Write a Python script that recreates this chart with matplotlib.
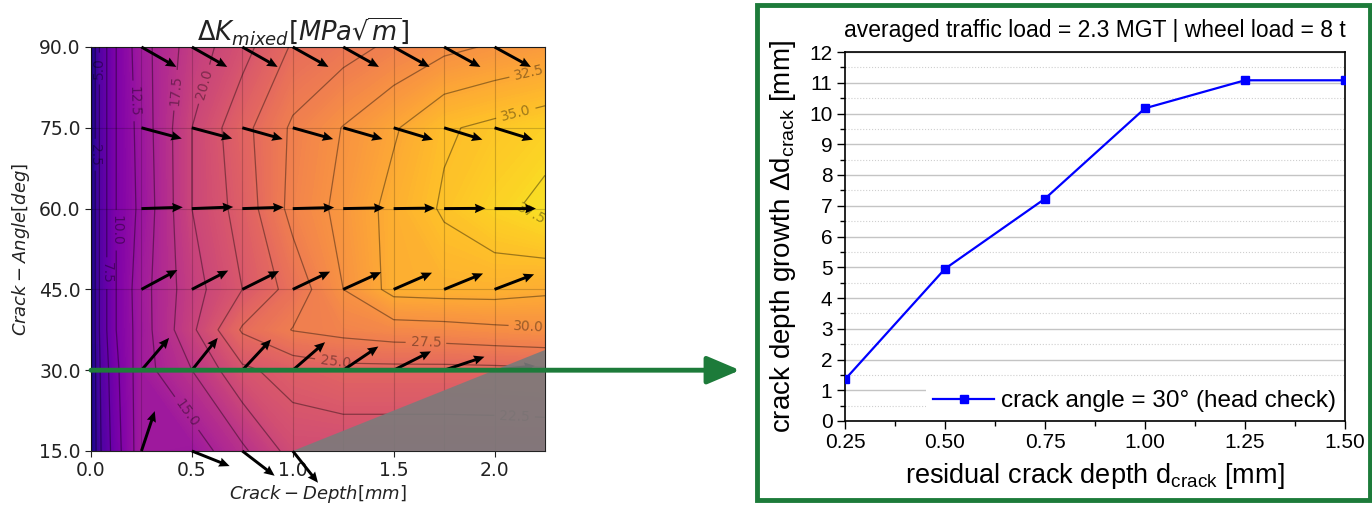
import matplotlib.pyplot as plt
import numpy as np
from matplotlib.patches import Rectangle
from matplotlib.ticker import AutoMinorLocator, FormatStrFormatter

plt.rcParams['mathtext.fontset'] = 'dejavusans'
plt.rcParams['mathtext.rm'] = 'Liberation Sans'
plt.rcParams['mathtext.it'] = 'Liberation Sans:italic'

# ---- left panel: mixed mode stress intensity range over crack geometry ----
depth = [0.0, 0.05, 0.125, 0.25, 0.5, 0.75, 1.0, 1.25, 1.5, 1.75, 2.0, 2.25]
angle = [15.0, 30.0, 37.5, 45.0, 60.0, 75.0, 90.0]
dk_15 = [0.0, 5.0, 9.0, 14.0, 13.5, 17.0, 21.0, 21.0, 21.0, 21.0, 21.0, 21.0]
dk_30 = [0.0, 5.5, 9.5, 14.0, 17.5, 22.0, 23.5, 24.3, 24.3, 24.3, 24.4, 24.6]
dk_37 = [0.0, 6.0, 10.0, 13.8, 19.5, 25.3, 27.6, 28.3, 28.9, 29.1, 29.5, 29.8]
dk_45 = [0.0, 6.0, 10.0, 14.0, 19.0, 22.5, 26.0, 30.0, 33.3, 33.5, 33.5, 33.0]
dk_60 = [0.0, 6.0, 10.0, 13.2, 20.0, 23.5, 28.3, 30.7, 33.3, 35.3, 36.8, 38.2]
dk_75 = [0.0, 6.0, 10.0, 13.5, 20.0, 24.2, 27.9, 30.1, 32.2, 34.7, 35.6, 36.5]
dk_90 = [0.0, 6.0, 10.0, 14.0, 18.7, 21.6, 25.3, 26.6, 28.0, 29.4, 30.3, 31.0]
contour_levels = np.arange(0, 40, 2.5)

# crack growth direction arrows (d depth, d angle) at the simulated points
arrow_depth = [0.25, 0.5, 0.75, 1.0, 1.25, 1.5, 1.75, 2.0]
arrow_angle = [15.0, 30.0, 45.0, 60.0, 75.0, 90.0]
nan = np.nan
u_15 = [0.066, 0.187, 0.16, 0.125, nan, nan, nan, nan]
v_15 = [7.4, -2.8, -4.6, -5.9, nan, nan, nan, nan]
u_30 = [0.137, 0.128, 0.142, 0.16, 0.174, 0.185, 0.2, 0.2]
v_30 = [6.0, 6.0, 5.7, 5.2, 4.4, 3.5, 2.5, 0.8]
u_45 = [0.178, 0.18, 0.182, 0.185, 0.188, 0.19, 0.193, 0.196]
v_45 = [3.6, 3.5, 3.4, 3.3, 3.2, 3.1, 2.95, 2.8]
u_60 = [0.205, 0.205, 0.205, 0.205, 0.205, 0.205, 0.205, 0.205]
v_60 = [0.25, 0.3, 0.25, 0.2, 0.15, 0.1, 0.05, 0.0]
u_75 = [0.2, 0.2, 0.2, 0.2, 0.195, 0.195, 0.19, 0.19]
v_75 = [-2.0, -2.0, -2.1, -2.1, -2.1, -2.2, -2.2, -2.2]
u_90 = [0.173, 0.175, 0.175, 0.177, 0.177, 0.178, 0.18, 0.18]
v_90 = [-3.7, -3.7, -3.7, -3.7, -3.7, -3.7, -3.7, -3.7]

# region outside the valid geometry (greyed out)
invalid_depth = [1.0, 2.25, 2.25]
invalid_angle = [15.0, 33.75, 15.0]

# ---- right panel: crack depth growth at 30 deg ----
residual_depth = [0.25, 0.5, 0.75, 1.0, 1.25, 1.5]
depth_growth = [1.35, 4.95, 7.23, 10.17, 11.08, 11.08]

green = '#1d7b3a'
W, H = 1372, 505
fig = plt.figure(figsize=(W / 100, H / 100), dpi=100)

ax1 = fig.add_axes([91 / W, 1 - 451 / H, 454 / W, 404 / H])
Z = np.array([dk_15, dk_30, dk_37, dk_45, dk_60, dk_75, dk_90])
X, Y = np.meshgrid(depth, angle)
ax1.contourf(X, Y, Z, levels=np.linspace(0, Z.max(), 200), cmap='plasma',
             vmin=0, vmax=40.5, zorder=1)
cs = ax1.contour(X, Y, Z, levels=contour_levels, colors=[(0, 0, 0, 0.38)],
                 linewidths=0.9, zorder=3)
label_pos = [(0.025, 70), (0.045, 86), (0.075, 48), (0.13, 56), (0.22, 80),
             (0.4, 20), (0.41, 82), (0.57, 83), (2.1, 22), (1.21, 31.5),
             (1.66, 35.2), (2.17, 38.1), (2.17, 85.5), (2.1, 78.5), (2.2, 60.5)]
ax1.clabel(cs, manual=label_pos, fmt='%.1f', fontsize=10, inline=True)

XA, YA = np.meshgrid(arrow_depth, arrow_angle)
U = np.array([u_15, u_30, u_45, u_60, u_75, u_90])
V = np.array([v_15, v_30, v_45, v_60, v_75, v_90])
q = ax1.quiver(XA, YA, U, V, angles='xy', scale_units='xy', scale=1, pivot='tail',
               width=0.0065, headwidth=3.2, headlength=3.6, headaxislength=3.3,
               color='k', zorder=4)
q.set_clip_on(False)

ax1.fill(invalid_depth, invalid_angle, color='#7b7b7b', alpha=0.9, lw=0, zorder=5)

ax1.set_xlim(0, 2.25)
ax1.set_ylim(15, 90)
ax1.set_xticks(np.arange(0, 2.01, 0.5))
ax1.set_xticks(np.arange(0, 2.26, 0.25), minor=True)
ax1.set_yticks(np.arange(15, 91, 15))
ax1.xaxis.set_major_formatter(FormatStrFormatter('%.1f'))
ax1.yaxis.set_major_formatter(FormatStrFormatter('%.1f'))
ax1.tick_params(which='major', labelsize=13.5, colors='#222222', length=4)
ax1.tick_params(which='minor', length=0)
ax1.grid(which='both', color='k', alpha=0.18, lw=0.8, zorder=2)
ax1.set_axisbelow(False)
for s in ax1.spines.values():
    s.set_color('#222222')
ax1.set_title(r'$\Delta K_{mixed}[MPa\sqrt{m}]$', fontsize=18.5, pad=5, color='#222222',
              x=0.468)
ax1.set_xlabel(r'$Crack-Depth[mm]$', fontsize=13, labelpad=2, color='#222222')
ax1.set_ylabel(r'$Crack-Angle[deg]$', fontsize=13, labelpad=5, color='#222222')

# green arrow linking the 30 deg line to the right panel
ax1.annotate('', xy=(740 / W, 30), xycoords=('figure fraction', 'data'),
             xytext=(0, 30), textcoords='data', annotation_clip=False,
             arrowprops=dict(arrowstyle='-|>,head_length=20,head_width=8.5',
                             mutation_scale=1, color=green, lw=3.5,
                             shrinkA=0, shrinkB=0),
             zorder=10)

# ---- right panel ----
arial = 'Liberation Sans'
ax2 = fig.add_axes([845 / W, 1 - 421 / H, 500 / W, 369 / H])
ax2.plot(residual_depth, depth_growth, color='#0000ff', lw=1.6, marker='s',
         markersize=5.5, label='crack angle = 30° (head check)', zorder=3)
ax2.set_xlim(0.25, 1.5)
ax2.set_ylim(0, 12)
ax2.set_xticks(np.arange(0.25, 1.51, 0.25))
ax2.set_yticks(np.arange(0, 13, 1))
ax2.xaxis.set_minor_locator(AutoMinorLocator(2))
ax2.yaxis.set_minor_locator(AutoMinorLocator(2))
ax2.xaxis.set_major_formatter(FormatStrFormatter('%.2f'))
ax2.grid(axis='y', which='major', color='#c4c4c4', lw=1)
ax2.grid(axis='y', which='minor', color='#cfcfcf', lw=0.8, ls=':')
ax2.set_axisbelow(True)
ax2.tick_params(which='major', direction='out', length=6, width=1, labelsize=15, pad=3)
ax2.tick_params(which='minor', direction='out', length=3.5, width=1)
for lab in ax2.get_xticklabels() + ax2.get_yticklabels():
    lab.set_family(arial)
for s in ax2.spines.values():
    s.set_linewidth(1.2)
ax2.set_title('averaged traffic load = 2.3 MGT | wheel load = 8 t',
              fontsize=16.5, family=arial, pad=11)
ax2.set_xlabel(r'residual crack depth $\mathrm{d}_{\mathrm{crack}}$ [mm]', fontsize=19.5,
               family=arial, math_fontfamily='custom', labelpad=6)
ax2.set_ylabel(r'crack depth growth Δ$\mathrm{d}_{\mathrm{crack}}$ [mm]', fontsize=20,
               family=arial, math_fontfamily='custom', labelpad=8)
ax2.legend(loc='lower right', bbox_to_anchor=(1.0, 0.0), frameon=True, facecolor='white',
           edgecolor='none', framealpha=1, fancybox=False, handlelength=2.5,
           handletextpad=0.3, borderaxespad=0.05, borderpad=0.3,
           prop={'family': arial, 'size': 17.5})

fig.add_artist(Rectangle((757 / W, 5 / H), 613 / W, 495 / H, transform=fig.transFigure,
                         fill=False, edgecolor=green, lw=3.5))

fig.savefig('out.png', dpi=100)
